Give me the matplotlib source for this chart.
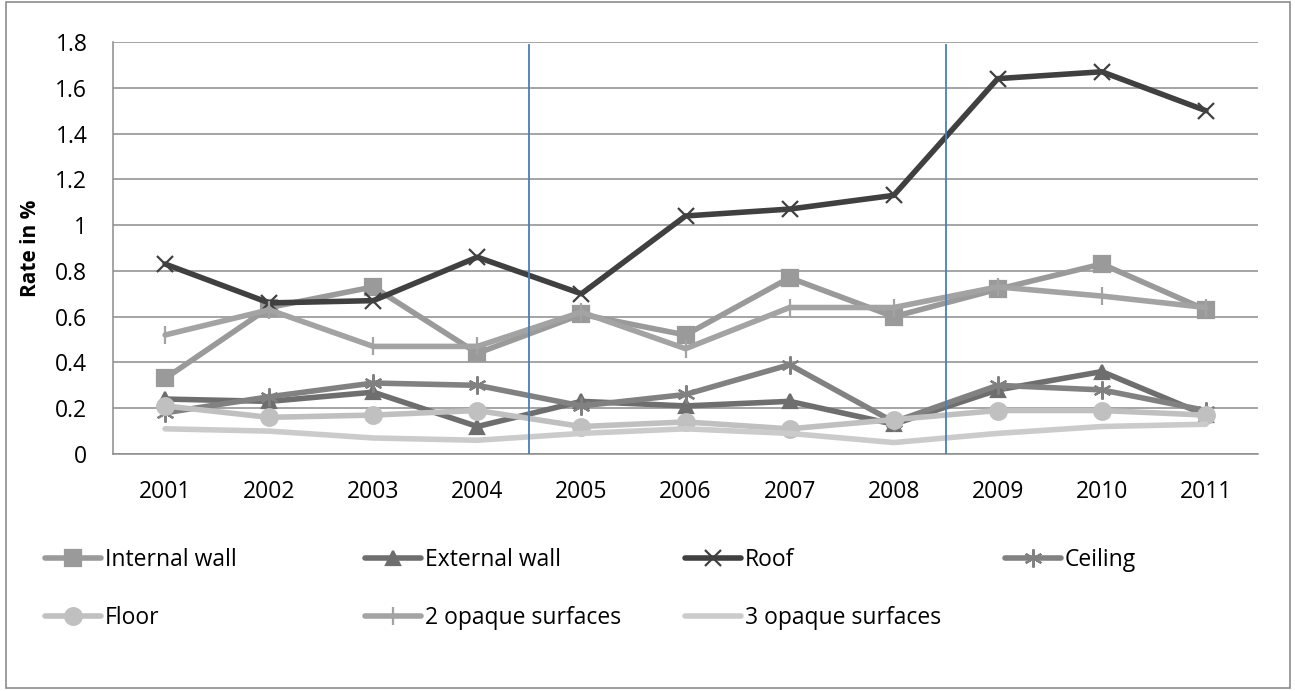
import matplotlib
matplotlib.use("Agg")
import matplotlib.pyplot as plt
from matplotlib.patches import Rectangle

# Rate (%) per building element, 2001-2011
years = ["2001", "2002", "2003", "2004", "2005", "2006",
         "2007", "2008", "2009", "2010", "2011"]

internal_wall = [0.33, 0.64, 0.73, 0.44, 0.61, 0.52, 0.77, 0.60, 0.72, 0.83, 0.63]
external_wall = [0.24, 0.23, 0.27, 0.12, 0.23, 0.21, 0.23, 0.13, 0.28, 0.36, 0.17]
roof = [0.83, 0.66, 0.67, 0.86, 0.70, 1.04, 1.07, 1.13, 1.64, 1.67, 1.50]
ceiling = [0.18, 0.25, 0.31, 0.30, 0.21, 0.26, 0.39, 0.14, 0.30, 0.28, 0.19]
floor = [0.21, 0.16, 0.17, 0.19, 0.12, 0.14, 0.11, 0.15, 0.19, 0.19, 0.17]
two_opaque = [0.52, 0.63, 0.47, 0.47, 0.62, 0.46, 0.64, 0.64, 0.73, 0.69, 0.64]
three_opaque = [0.11, 0.10, 0.07, 0.06, 0.09, 0.11, 0.09, 0.05, 0.09, 0.12, 0.13]

# period boundaries (between 2004/2005 and 2008/2009)
breaks = [3.5, 7.5]

series = [
    ("Internal wall", internal_wall, "#9a9a9a", "s", 11),
    ("External wall", external_wall, "#6e6e6e", "^", 10),
    ("Roof", roof, "#404040", "x", 11),
    ("Ceiling", ceiling, "#818181", (6, 2, 0), 13),
    ("Floor", floor, "#c0c0c0", "o", 12),
    ("2 opaque surfaces", two_opaque, "#a3a3a3", "|", 13),
    ("3 opaque surfaces", three_opaque, "#cbcbcb", None, 0),
]

plt.rcParams["font.family"] = ["Open Sans", "DejaVu Sans"]
FS = 16.5

fig = plt.figure(figsize=(12.95, 6.91), dpi=100)
ax = fig.add_axes([0.0873, 0.3430, 0.8841, 0.5962])

x = list(range(len(years)))
handles = []
for name, vals, col, mk, ms in series:
    (h,) = ax.plot(x, vals, color=col, lw=4, marker=mk, ms=ms,
                   mec=col, mfc=col, mew=1.6, label=name,
                   solid_joinstyle="round", solid_capstyle="round")
    handles.append(h)

for b in breaks:
    ax.axvline(b, ymin=-0.01, ymax=0.993, color="#4a7ebb", lw=1.3, zorder=5)

ax.set_xlim(-0.5, len(years) - 0.5)
ax.set_ylim(0, 1.8)
ax.set_yticks([0, 0.2, 0.4, 0.6, 0.8, 1.0, 1.2, 1.4, 1.6, 1.8])
ax.set_yticklabels(["0", "0.2", "0.4", "0.6", "0.8", "1", "1.2", "1.4", "1.6", "1.8"])
ax.set_xticks(x)
ax.set_xticklabels(years)
ax.tick_params(length=0, labelsize=FS)
ax.tick_params(axis="x", pad=19)
ax.tick_params(axis="y", pad=18.5)
ax.grid(axis="y", color="#8c8c8c", lw=1.1)
ax.set_axisbelow(True)
for s in ["top", "right"]:
    ax.spines[s].set_visible(False)
for s in ["left", "bottom"]:
    ax.spines[s].set_color("#8c8c8c")
    ax.spines[s].set_linewidth(1.1)
ax.set_ylabel("Rate in %", fontsize=15, fontweight="bold", labelpad=10)

# legend entries: four columns, two rows
col_x = [45 / 1295, 365 / 1295, 685 / 1295, 1005 / 1295]
row_y = [1 - 560 / 691, 1 - 618 / 691]
for i, h in enumerate(handles):
    fig.legend(handles=[h], loc="center left",
               bbox_to_anchor=(col_x[i % 4], row_y[i // 4]),
               frameon=False, fontsize=FS, handlelength=2.45,
               handletextpad=0.17, borderpad=0, borderaxespad=0)

fig.add_artist(Rectangle((6 / 1295, 3 / 691), 1284 / 1295, 686 / 691,
                         transform=fig.transFigure, fill=False,
                         ec="#8c8c8c", lw=1.2))

fig.savefig("out.png", dpi=100)
